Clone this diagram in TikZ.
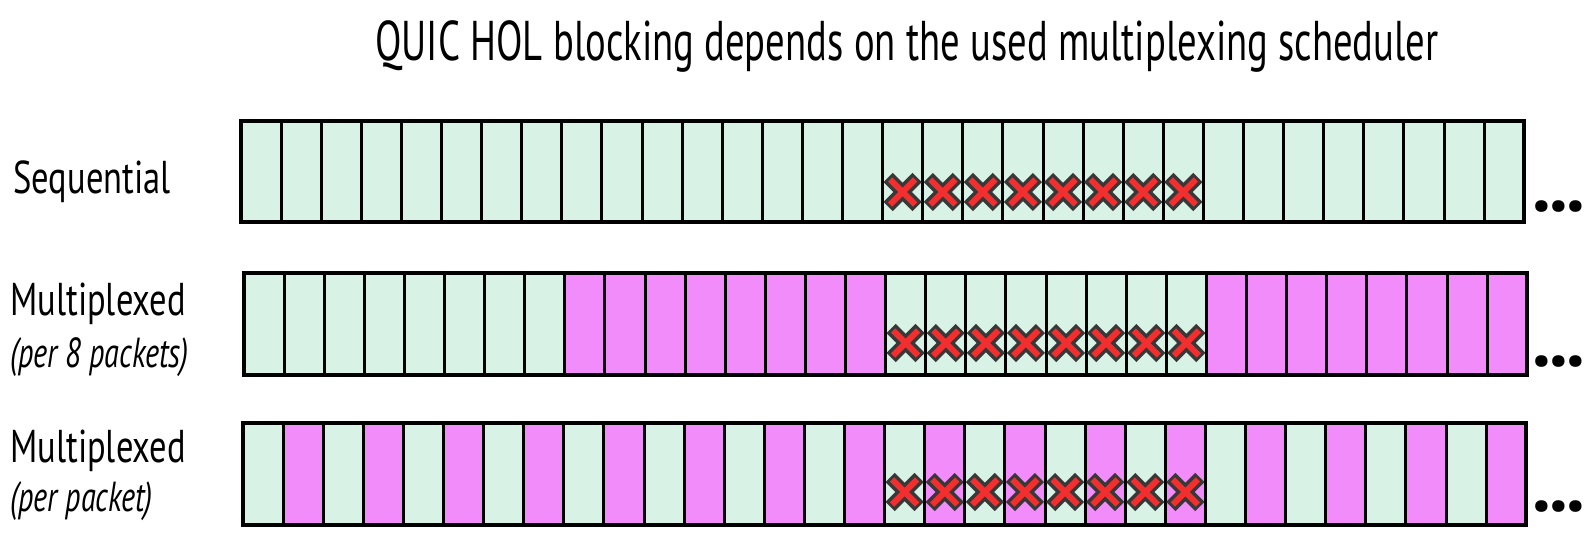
\documentclass[tikz,border=0pt]{standalone}
\usepackage{fontspec}
\setmainfont{PT Sans}
\newfontfamily\titlefont{PT Sans}[FakeStretch=0.69]
\newfontfamily\labfont{PT Sans}[FakeStretch=0.75]
\newfontfamily\subfont{PT Sans}[FakeStretch=0.72]
\newfontfamily\dotfont{PT Sans}
\definecolor{mint}{HTML}{D8F2E5}
\definecolor{pinkc}{HTML}{F28CFA}
\definecolor{xgray}{HTML}{383838}
\definecolor{xred}{HTML}{F22E2E}
\newcommand\cellrow[4]{% #1 left, #2 top, #3 bottom, #4 cell width
  \foreach \i in {1,...,31}{\draw[divider] ({#1+\i*#4},#2) -- ({#1+\i*#4},#3);}
  \draw[outerbox] (#1,#2) rectangle ({#1+32*#4},#3);
}
\newcommand\blockgray[2]{%
  \draw[xoutline] ({#1-14.5},{#2-14.5}) -- ({#1+14.5},{#2+14.5});
  \draw[xoutline] ({#1-14.5},{#2+14.5}) -- ({#1+14.5},{#2-14.5});}
\newcommand\blockred[2]{%
  \draw[xstroke] ({#1-12.5},{#2-12.5}) -- ({#1+12.5},{#2+12.5});
  \draw[xstroke] ({#1-12.5},{#2+12.5}) -- ({#1+12.5},{#2-12.5});}
\begin{document}
\begin{tikzpicture}[x=0.5pt,y=-0.5pt,
  divider/.style={draw=black,line width=1.5pt},
  outerbox/.style={draw=black,line width=2pt},
  xoutline/.style={draw=xgray,line width=6.5pt},
  xstroke/.style={draw=xred,line width=3pt},
  rowlabel/.style={anchor=base west,inner sep=0pt,font=\fontsize{23}{26}\labfont},
  sublabel/.style={anchor=base west,inner sep=0pt,font=\fontsize{21}{24}\subfont\itshape},
  dots/.style={anchor=center,inner sep=0pt,font=\fontsize{38}{42}\dotfont\bfseries},
  titlestyle/.style={anchor=base,inner sep=0pt,font=\fontsize{28}{32}\titlefont}]
\useasboundingbox (0,0) rectangle (1596,532);
\fill[white] (0,0) rectangle (1596,532);

\node[titlestyle] (title) at (907,60) {QUIC HOL blocking depends on the used multiplexing scheduler};

% Row 1: sequential
\fill[mint] (241,121) rectangle ({241+32*40.1},222);
\cellrow{241}{121}{222}{40.1}
% Row 2: per 8 packets
\fill[mint] (244,273) rectangle ({244+32*40.1},375);
\fill[pinkc] ({244+8*40.1},273) rectangle ({244+16*40.1},375);
\fill[pinkc] ({244+24*40.1},273) rectangle ({244+32*40.1},375);
\cellrow{244}{273}{375}{40.1}
% Row 3: per packet
\fill[mint] (243,423) rectangle ({243+32*40.1},525);
\foreach \i in {1,3,...,31}{\fill[pinkc] ({243+\i*40.1},423) rectangle ({243+(\i+1)*40.1},525);}
\cellrow{243}{423}{525}{40.1}

% Crosses
\foreach \i in {16,...,23}{
  \blockgray{241+(\i+0.5)*40.1}{192}
  \blockgray{244+(\i+0.5)*40.1}{343}
  \blockgray{243+(\i+0.5)*40.1}{492}}
\foreach \i in {16,...,23}{
  \blockred{241+(\i+0.5)*40.1}{192}
  \blockred{244+(\i+0.5)*40.1}{343}
  \blockred{243+(\i+0.5)*40.1}{492}}

% Labels
\node[rowlabel] (seq) at (13,193) {Sequential};
\node[rowlabel] (mux8) at (10,315) {Multiplexed};
\node[sublabel] (per8) at (10,367) {(per 8 packets)};
\node[rowlabel] (mux1) at (10,462) {Multiplexed};
\node[sublabel] (per1) at (10,511) {(per packet)};

% Ellipses
\node[dots] (dots1) at (1559,207) {.\kern-0.8pt.\kern-0.8pt.};
\node[dots] (dots2) at (1559,362) {.\kern-0.8pt.\kern-0.8pt.};
\node[dots] (dots3) at (1559,507) {.\kern-0.8pt.\kern-0.8pt.};
\end{tikzpicture}
\end{document}
